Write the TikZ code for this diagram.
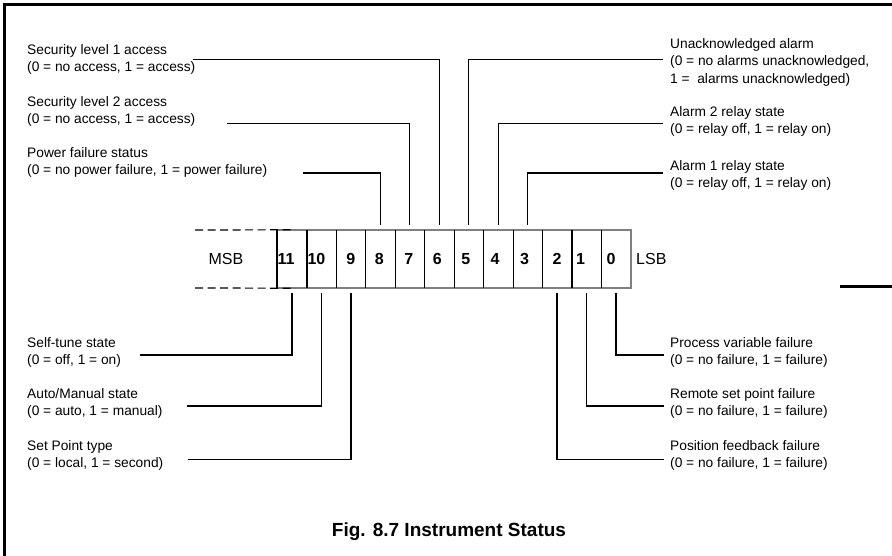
\documentclass[tikz,border=0pt]{standalone}
\usepackage{fontspec}
\setmainfont{Liberation Sans}
\usetikzlibrary{calc, positioning}

\tikzset{
  lbl/.style={anchor=north west, align=left, inner sep=0pt, font=\fontsize{13.75}{17.3}\selectfont},
  cell/.style={minimum width=29.45pt, minimum height=58pt, inner sep=0pt},
  bitno/.style={inner sep=0pt, font=\bfseries\fontsize{16}{16}\selectfont},
  endtext/.style={inner sep=0pt, font=\fontsize{16}{16}\selectfont},
  lead/.style={line width=1.2pt},
  extdash/.style={line width=1.2pt, dash pattern=on 8pt off 4.5pt},
}

\begin{document}
\begin{tikzpicture}[x=1pt, y=-1pt]
  \useasboundingbox (0,0) rectangle (892,556);
  % frame
  \draw[line width=3pt] (4.5,556) -- (4.5,4.5) -- (892,4.5);
  \draw[line width=3pt] (840,287) -- (892,287);

  % register cells
  \foreach \i/\dx in {11/-6,10/-5,9/0,8/-1,7/-1,6/-2,5/-3,4/-3,3/-3,2/0,1/-6,0/-5} {
    \node[cell] (c\i) at ({277.3+29.45*(11-\i)+14.72},259) {};
    \node[bitno] (n\i) at ([xshift=\dx pt]c\i.center) {\i};
  }
  \draw[gray, line width=1.5pt] (c11.north west) rectangle (c0.south east);
  \draw[line width=1.2pt] (c11.north west) -- (c11.south west);
  \foreach \i in {11,...,1}
    \draw[line width=1.2pt] (c\i.north east) -- (c\i.south east);

  % bits beyond 11
  \coordinate (msbtop) at (195,230);
  \coordinate (msbbot) at (195,288);
  \draw[extdash] (msbtop) -- ([xshift=18pt]c11.north west);
  \draw[extdash] (msbbot) -- ([xshift=18pt]c11.south west);
  \node[endtext] (msb) at (226,259) {MSB};
  \node[endtext, anchor=west] (lsb) at (636,259) {LSB};

  % labels, top
  \node[lbl] (secone) at (27,44) {Security level 1 access\\(0 = no access, 1 = access)};
  \node[lbl] (sectwo) at (27,96) {Security level 2 access\\(0 = no access, 1 = access)};
  \node[lbl] (pwrfail) at (27,147) {Power failure status\\(0 = no power failure, 1 = power failure)};
  \node[lbl] (unack) at (670,38.3) {Unacknowledged alarm\\(0 = no alarms unacknowledged,\\1 = \ alarms unacknowledged)};
  \node[lbl] (almtwo) at (670,106) {Alarm 2 relay state\\(0 = relay off, 1 = relay on)};
  \node[lbl] (almone) at (670,160) {Alarm 1 relay state\\(0 = relay off, 1 = relay on)};

  % labels, bottom
  \node[lbl] (selftune) at (27,337.3) {Self-tune state\\(0 = off, 1 = on)};
  \node[lbl] (automan) at (27,388) {Auto/Manual state\\(0 = auto, 1 = manual)};
  \node[lbl] (sptype) at (27,440) {Set Point type\\(0 = local, 1 = second)};
  \node[lbl] (pvfail) at (670,337.3) {Process variable failure\\(0 = no failure, 1 = failure)};
  \node[lbl] (rspfail) at (670,388) {Remote set point failure\\(0 = no failure, 1 = failure)};
  \node[lbl] (posfail) at (670,440) {Position feedback failure\\(0 = no failure, 1 = failure)};

  % leader ends
  \coordinate (e6) at (193,59.3);
  \coordinate (e7) at (227,123.7);
  \coordinate (e8) at (303,173);
  \coordinate (e5) at (663,59.3);
  \coordinate (e4) at (663,123.7);
  \coordinate (e3) at (663,173);
  \coordinate (e11) at (140,355);
  \coordinate (e10) at (187,406);
  \coordinate (e9) at (188,459.3);
  \coordinate (e0) at (664,355);
  \coordinate (e1) at (664,406);
  \coordinate (e2) at (664,459.3);

  % leaders
  \foreach \i in {8,7,6,5,4,3}
    \draw[lead] (e\i) -| ([yshift=4.5pt]c\i.north);
  \foreach \i in {11,10,9,2,1,0}
    \draw[lead] (e\i) -| ([yshift=-5pt]c\i.south);

  \node[font=\bfseries\fontsize{19}{19}\selectfont, inner sep=0pt] (caption) at (449,532) {Fig. 8.7 Instrument Status};
\end{tikzpicture}
\end{document}
